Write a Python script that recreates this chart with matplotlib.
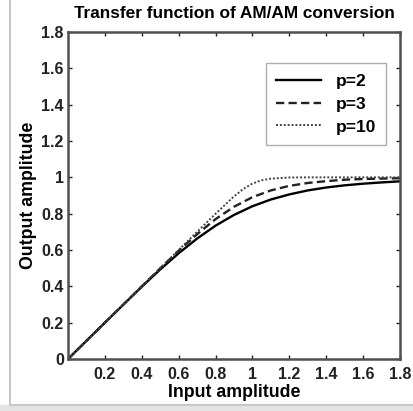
import matplotlib
matplotlib.use("Agg")
import matplotlib.pyplot as plt
from matplotlib.lines import Line2D

# values
x_in = [0.0, 0.1, 0.2, 0.3, 0.4, 0.5, 0.6, 0.7, 0.8, 0.9, 1.0,
        1.1, 1.2, 1.3, 1.4, 1.5, 1.6, 1.7, 1.8]
y_p2 = [0.0, 0.1, 0.2, 0.299, 0.398, 0.493, 0.582, 0.663, 0.734, 0.793, 0.841,
        0.878, 0.906, 0.928, 0.944, 0.956, 0.965, 0.972, 0.978]
y_p3 = [0.0, 0.1, 0.2, 0.3, 0.4, 0.499, 0.596, 0.687, 0.770, 0.838, 0.891,
        0.928, 0.953, 0.969, 0.979, 0.987, 0.991, 0.993, 0.995]
x_p10 = [0.0, 0.2, 0.4, 0.6, 0.7, 0.8, 0.85, 0.9, 0.95, 1.0, 1.05,
         1.1, 1.2, 1.3, 1.4, 1.6, 1.8]
y_p10 = [0.0, 0.2, 0.4, 0.6, 0.7, 0.7995, 0.847, 0.895, 0.936, 0.966, 0.984,
         0.993, 0.999, 1.0, 1.0, 1.0, 1.0]

labels = ["p=2", "p=3", "p=10"]
x_ticks = [0.2, 0.4, 0.6, 0.8, 1.0, 1.2, 1.4, 1.6, 1.8]
x_tick_labels = ["0.2", "0.4", "0.6", "0.8", "1", "1.2", "1.4", "1.6", "1.8"]
y_ticks = [0, 0.2, 0.4, 0.6, 0.8, 1.0, 1.2, 1.4, 1.6, 1.8]
y_tick_labels = ["0", "0.2", "0.4", "0.6", "0.8", "1", "1.2", "1.4", "1.6", "1.8"]

plt.rcParams["font.family"] = ["Liberation Sans", "DejaVu Sans"]
plt.rcParams["font.weight"] = "bold"

fig = plt.figure(figsize=(4.14, 4.11), dpi=100)
ax = fig.add_axes([68 / 414, 1 - 359 / 411, 332 / 414, 327 / 411])

ax.plot(x_in, y_p2, color="black", lw=1.7, linestyle="-", label=labels[0])
ax.plot(x_in, y_p3, color="#222222", lw=1.7, linestyle=(0, (3.5, 1.8)), label=labels[1])
ax.plot(x_p10, y_p10, color="#444444", lw=1.4, linestyle=(0, (1, 1)), label=labels[2])

ax.set_xlim(0, 1.8)
ax.set_ylim(0, 1.8)
ax.set_xticks(x_ticks)
ax.set_xticklabels(x_tick_labels)
ax.set_yticks(y_ticks)
ax.set_yticklabels(y_tick_labels)
ax.tick_params(direction="in", length=3, width=1, top=True, right=True,
               labelsize=11.5, colors="#222222", pad=3)
ax.tick_params(axis="x", pad=6)
for label in ax.get_xticklabels() + ax.get_yticklabels():
    label.set_fontweight("bold")
for spine in ax.spines.values():
    spine.set_color("#505050")
    spine.set_linewidth(1.8)

ax.set_title("Transfer function of AM/AM conversion", fontsize=12.4,
             fontweight="bold", pad=10)
ax.set_xlabel("Input amplitude", fontsize=12.8, fontweight="bold", labelpad=1)
ax.set_ylabel("Output amplitude", fontsize=12.8, fontweight="bold", labelpad=3)

leg = ax.legend(loc="upper left", bbox_to_anchor=(0.596, 0.905), borderaxespad=0,
                fontsize=12.5, frameon=True, fancybox=False, handlelength=2.6,
                borderpad=0.6, labelspacing=0.45, handletextpad=0.8)
leg.get_frame().set_edgecolor("#999999")
leg.get_frame().set_linewidth(1.0)
for text in leg.get_texts():
    text.set_fontweight("bold")

# grey screenshot frame at left and bottom
fig.patches.append(plt.Rectangle((0, 0), 1, 6 / 411, transform=fig.transFigure,
                                 color="#e4e4e4", zorder=0))
fig.add_artist(Line2D([9.5 / 414, 9.5 / 414], [6 / 411, 1], transform=fig.transFigure,
                      color="#c8c8c8", lw=1.5))
fig.add_artist(Line2D([9.5 / 414, 1], [6.5 / 411, 6.5 / 411], transform=fig.transFigure,
                      color="#c8c8c8", lw=1.5))

fig.savefig("out.png", dpi=100)
